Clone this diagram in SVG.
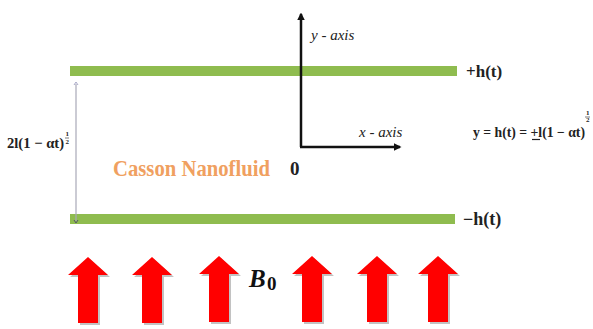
<svg xmlns="http://www.w3.org/2000/svg" width="593" height="329" viewBox="0 0 593 329">
<style>
.plate{fill:#8fbc4f}
.mth{font-family:"Liberation Serif",serif;font-weight:bold;fill:#222}
.ax{font-family:"Liberation Serif",serif;font-style:italic;font-size:15px;fill:#222}
.axis{stroke:#111;stroke-width:2.5;fill:none}
.frac{font-family:"Liberation Serif",serif;font-weight:bold;font-size:7px;fill:#222}
.arr{fill:#ff0000}
.sh{fill:#9a9a9a;opacity:0.6}
</style>
<defs>
<marker id="ah" viewBox="0 0 10 10" refX="8" refY="5" markerWidth="3" markerHeight="3" orient="auto"><path d="M0,0 L10,5 L0,10 z" fill="#111"/></marker>
<path id="arrow" d="M-10,18 L-20,18 L0,0 L20,18 L10,18 L10,66 L-10,66 z"/>
</defs>
<rect width="593" height="329" fill="#fff"/>
<g id="top-plate"><rect class="plate" x="70" y="66" width="387" height="10"/><text class="mth" x="466" y="77" font-size="17">+h(t)</text></g>
<g id="bottom-plate"><rect class="plate" x="70" y="214" width="385" height="10"/><text class="mth" x="463" y="225" font-size="18">−h(t)</text></g>
<g id="connectors">
<line class="axis" x1="301" y1="147" x2="301" y2="14" marker-end="url(#ah)"/>
<line class="axis" x1="300" y1="147" x2="400" y2="147" marker-end="url(#ah)"/>
<line x1="76" y1="84" x2="76" y2="221" stroke="#a8a8b8" stroke-width="1.2"/>
<path d="M74,85 L76,82 L78,85" stroke="#a8a8c8" stroke-width="1" fill="none"/>
<path d="M74,220 L76,223 L78,220" stroke="#556" stroke-width="1" fill="none"/>
</g>
<g id="axis-labels">
<text class="ax" x="311" y="40">y - axis</text>
<text class="ax" x="359" y="137">x - axis</text>
<text class="mth" x="290" y="175" font-size="19">0</text>
</g>
<g id="gap-label">
<text class="mth" x="7" y="148" font-size="15" textLength="57" lengthAdjust="spacingAndGlyphs">2l(1 − αt)</text>
<text class="frac" x="65.5" y="136">1</text><line x1="65" y1="138" x2="69" y2="138" stroke="#222" stroke-width="0.6"/><text class="frac" x="65.5" y="144">2</text>
</g>
<g id="equation">
<text class="mth" x="473" y="137" font-size="14" textLength="112" lengthAdjust="spacingAndGlyphs">y = h(t) = +l(1 − αt)</text>
<line x1="532" y1="139.5" x2="540" y2="139.5" stroke="#222" stroke-width="1.2"/>
<text class="frac" x="586" y="115">1</text><line x1="585" y1="117" x2="590" y2="117" stroke="#222" stroke-width="0.6"/><text class="frac" x="586" y="122">2</text>
</g>
<g id="casson"><text x="113" y="176" font-family="Liberation Serif,serif" font-weight="bold" font-size="23" fill="#f0a060" textLength="157" lengthAdjust="spacingAndGlyphs">Casson Nanofluid</text></g>
<g id="field-arrows">
<use href="#arrow" class="sh" x="90" y="259"/><use href="#arrow" class="arr" x="88" y="257"/>
<use href="#arrow" class="sh" x="154" y="259"/><use href="#arrow" class="arr" x="152" y="257"/>
<use href="#arrow" class="sh" x="221" y="258"/><use href="#arrow" class="arr" x="219" y="256"/>
<use href="#arrow" class="sh" x="314" y="258"/><use href="#arrow" class="arr" x="312" y="256"/>
<use href="#arrow" class="sh" x="379" y="258"/><use href="#arrow" class="arr" x="377" y="256"/>
<use href="#arrow" class="sh" x="440" y="258"/><use href="#arrow" class="arr" x="438" y="256"/>
</g>
<g id="b0"><text x="249" y="287" font-family="Liberation Serif,serif" font-weight="bold" font-style="italic" font-size="25" fill="#111">B</text><text x="267" y="290" font-family="Liberation Serif,serif" font-weight="bold" font-size="19" fill="#111">0</text></g>
</svg>
